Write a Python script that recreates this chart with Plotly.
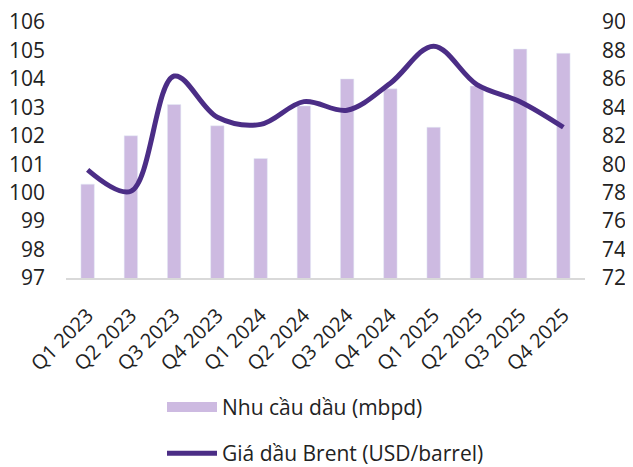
import plotly.graph_objects as go

quarters = ["Q1 2023", "Q2 2023", "Q3 2023", "Q4 2023", "Q1 2024", "Q2 2024",
            "Q3 2024", "Q4 2024", "Q1 2025", "Q2 2025", "Q3 2025", "Q4 2025"]
demand = [100.3, 102.0, 103.1, 102.35, 101.2, 103.05, 104.0, 103.65, 102.3, 103.75, 105.05, 104.9]
brent = [79.6, 78.1, 86.2, 83.3, 82.8, 84.4, 83.8, 85.7, 88.3, 85.6, 84.4, 82.6]

left_ticks = list(range(97, 107))
right_ticks = list(range(72, 91, 2))

font_family = "'Open Sans', sans-serif"
bar_color = "#CDBAE1"
line_color = "#4B2D86"

fig = go.Figure()
fig.add_trace(go.Bar(
    x=quarters, y=demand, name="Nhu cầu dầu (mbpd)",
    marker=dict(color=bar_color), width=0.31, legendgroup="a", yaxis="y",
    showlegend=False,
))
# legend entry for the bars (wide swatch like the original)
fig.add_trace(go.Scatter(
    x=[None], y=[None], name="Nhu cầu dầu (mbpd)", mode="lines",
    line=dict(color=bar_color, width=12), legendgroup="a", yaxis="y",
))
fig.add_trace(go.Scatter(
    x=quarters, y=brent, name="Giá dầu Brent (USD/barrel)",
    mode="lines", line=dict(color=line_color, width=5, shape="spline", smoothing=1.0),
    legendgroup="b", yaxis="y2",
))

fig.update_layout(
    width=625, height=459,
    margin=dict(l=58, r=48, t=14, b=189, autoexpand=False),
    paper_bgcolor="white", plot_bgcolor="white",
    font=dict(family=font_family, size=20, color="#222222"),
    showlegend=True,
    legend=dict(
        orientation="v", x=0.5, xanchor="center", y=-0.425, yanchor="top",
        font=dict(size=21, color="#222222"), tracegroupgap=16, itemwidth=50,
        traceorder="grouped", bgcolor="rgba(0,0,0,0)",
    ),
    xaxis=dict(
        tickangle=-45, showgrid=False, showline=True, linecolor="#D9D9D9", linewidth=1.5,
        ticks="", tickfont=dict(size=20), range=[-0.5, 11.5], ticklabelstandoff=16,
    ),
    yaxis=dict(
        range=[97, 106], tickvals=left_ticks, showgrid=False, zeroline=False,
        showline=False, ticks="", ticklabelstandoff=20, tickfont=dict(size=21),
        ticklabeloverflow="allow",
    ),
    yaxis2=dict(
        range=[72, 90], tickvals=right_ticks, overlaying="y", side="right",
        showgrid=False, zeroline=False, showline=False, ticks="", ticklabelstandoff=16,
        tickfont=dict(size=21), ticklabeloverflow="allow",
    ),
    bargap=0.69,
)

fig.write_html("out.html")
